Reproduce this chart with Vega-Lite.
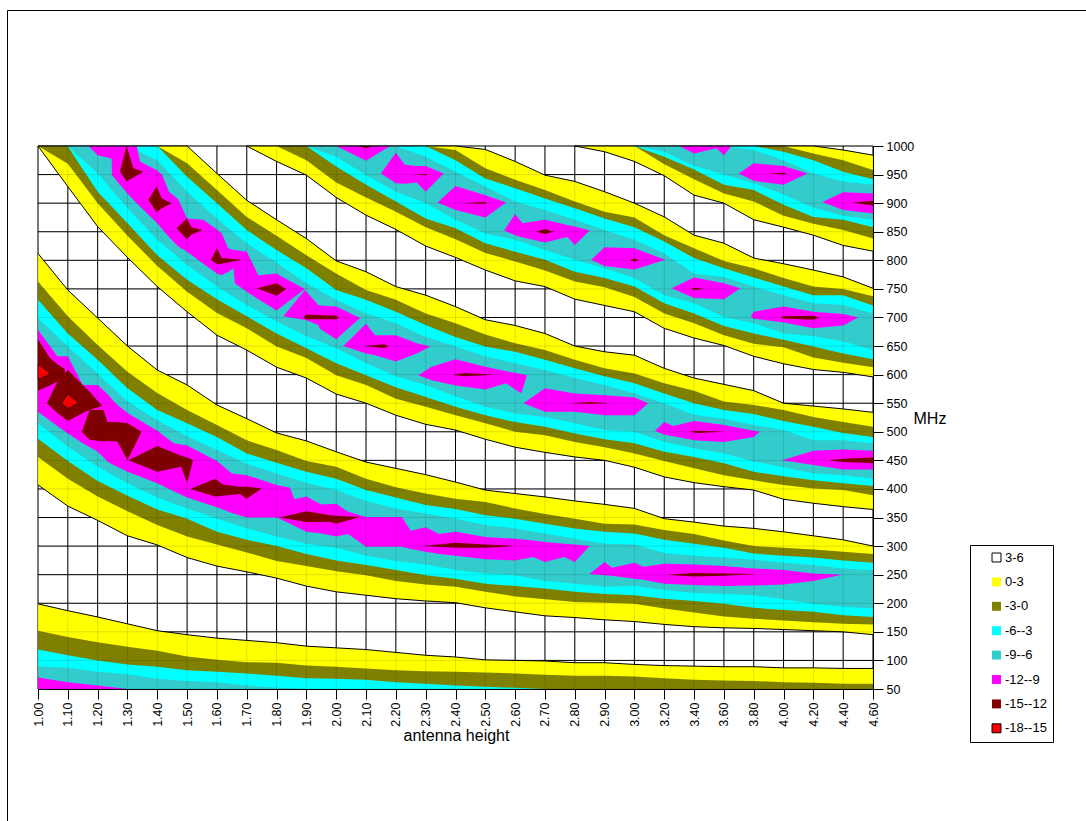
{"$schema":"https://vega.github.io/schema/vega-lite/v6.json","width":1084,"height":816,"autosize":"none","padding":{"left":7,"top":10,"right":-5,"bottom":-5},"background":"white","config":{"view":{"stroke":"black","strokeWidth":1},"font":"Liberation Sans"},
"datasets":{"gridv":[{"h":0,"lo":50,"hi":1000},{"h":1,"lo":50,"hi":1000},{"h":2,"lo":50,"hi":1000},{"h":3,"lo":50,"hi":1000},{"h":4,"lo":50,"hi":1000},{"h":5,"lo":50,"hi":1000},{"h":6,"lo":50,"hi":1000},{"h":7,"lo":50,"hi":1000},{"h":8,"lo":50,"hi":1000},{"h":9,"lo":50,"hi":1000},{"h":10,"lo":50,"hi":1000},{"h":11,"lo":50,"hi":1000},{"h":12,"lo":50,"hi":1000},{"h":13,"lo":50,"hi":1000},{"h":14,"lo":50,"hi":1000},{"h":15,"lo":50,"hi":1000},{"h":16,"lo":50,"hi":1000},{"h":17,"lo":50,"hi":1000},{"h":18,"lo":50,"hi":1000},{"h":19,"lo":50,"hi":1000},{"h":20,"lo":50,"hi":1000},{"h":21,"lo":50,"hi":1000},{"h":22,"lo":50,"hi":1000},{"h":23,"lo":50,"hi":1000},{"h":24,"lo":50,"hi":1000},{"h":25,"lo":50,"hi":1000},{"h":26,"lo":50,"hi":1000},{"h":27,"lo":50,"hi":1000},{"h":28,"lo":50,"hi":1000}],
"gridh":[{"h":0,"lo":50},{"h":28,"lo":50},{"h":0,"lo":100},{"h":28,"lo":100},{"h":0,"lo":150},{"h":28,"lo":150},{"h":0,"lo":200},{"h":28,"lo":200},{"h":0,"lo":250},{"h":28,"lo":250},{"h":0,"lo":300},{"h":28,"lo":300},{"h":0,"lo":350},{"h":28,"lo":350},{"h":0,"lo":400},{"h":28,"lo":400},{"h":0,"lo":450},{"h":28,"lo":450},{"h":0,"lo":500},{"h":28,"lo":500},{"h":0,"lo":550},{"h":28,"lo":550},{"h":0,"lo":600},{"h":28,"lo":600},{"h":0,"lo":650},{"h":28,"lo":650},{"h":0,"lo":700},{"h":28,"lo":700},{"h":0,"lo":750},{"h":28,"lo":750},{"h":0,"lo":800},{"h":28,"lo":800},{"h":0,"lo":850},{"h":28,"lo":850},{"h":0,"lo":900},{"h":28,"lo":900},{"h":0,"lo":950},{"h":28,"lo":950},{"h":0,"lo":1000},{"h":28,"lo":1000}],
"bands":[
{"g":"A","b":"0-3","h":0,"lo":40,"hi":199},{"g":"A","b":"0-3","h":1,"lo":40,"hi":187},{"g":"A","b":"0-3","h":2,"lo":40,"hi":176},{"g":"A","b":"0-3","h":3,"lo":40,"hi":164},{"g":"A","b":"0-3","h":4,"lo":40,"hi":152},{"g":"A","b":"0-3","h":5,"lo":40,"hi":145},{"g":"A","b":"0-3","h":6,"lo":40,"hi":139},{"g":"A","b":"0-3","h":7,"lo":40,"hi":135},{"g":"A","b":"0-3","h":8,"lo":40,"hi":131},{"g":"A","b":"0-3","h":9,"lo":40,"hi":125},{"g":"A","b":"0-3","h":10,"lo":40,"hi":122},{"g":"A","b":"0-3","h":11,"lo":40,"hi":119},{"g":"A","b":"0-3","h":12,"lo":40,"hi":114},{"g":"A","b":"0-3","h":13,"lo":40,"hi":109},{"g":"A","b":"0-3","h":14,"lo":40,"hi":106},{"g":"A","b":"0-3","h":15,"lo":40,"hi":101},{"g":"A","b":"0-3","h":16,"lo":40,"hi":100},{"g":"A","b":"0-3","h":17,"lo":40,"hi":99},{"g":"A","b":"0-3","h":18,"lo":40,"hi":96},{"g":"A","b":"0-3","h":19,"lo":40,"hi":96},{"g":"A","b":"0-3","h":20,"lo":40,"hi":93},{"g":"A","b":"0-3","h":21,"lo":40,"hi":91},{"g":"A","b":"0-3","h":22,"lo":40,"hi":90},{"g":"A","b":"0-3","h":23,"lo":40,"hi":89},{"g":"A","b":"0-3","h":24,"lo":40,"hi":89},{"g":"A","b":"0-3","h":25,"lo":40,"hi":87},{"g":"A","b":"0-3","h":26,"lo":40,"hi":87},{"g":"A","b":"0-3","h":27,"lo":40,"hi":86},{"g":"A","b":"0-3","h":28,"lo":40,"hi":86},
{"g":"A","b":"-3-0","h":0,"lo":40,"hi":152},{"g":"A","b":"-3-0","h":1,"lo":40,"hi":141},{"g":"A","b":"-3-0","h":2,"lo":40,"hi":132},{"g":"A","b":"-3-0","h":3,"lo":40,"hi":124},{"g":"A","b":"-3-0","h":4,"lo":40,"hi":117},{"g":"A","b":"-3-0","h":5,"lo":40,"hi":107},{"g":"A","b":"-3-0","h":6,"lo":40,"hi":101},{"g":"A","b":"-3-0","h":7,"lo":40,"hi":97},{"g":"A","b":"-3-0","h":8,"lo":40,"hi":96},{"g":"A","b":"-3-0","h":9,"lo":40,"hi":91},{"g":"A","b":"-3-0","h":10,"lo":40,"hi":89},{"g":"A","b":"-3-0","h":11,"lo":40,"hi":86},{"g":"A","b":"-3-0","h":12,"lo":40,"hi":83},{"g":"A","b":"-3-0","h":13,"lo":40,"hi":81},{"g":"A","b":"-3-0","h":14,"lo":40,"hi":80},{"g":"A","b":"-3-0","h":15,"lo":40,"hi":79},{"g":"A","b":"-3-0","h":16,"lo":40,"hi":77},{"g":"A","b":"-3-0","h":17,"lo":40,"hi":75},{"g":"A","b":"-3-0","h":18,"lo":40,"hi":73},{"g":"A","b":"-3-0","h":19,"lo":40,"hi":73},{"g":"A","b":"-3-0","h":20,"lo":40,"hi":72},{"g":"A","b":"-3-0","h":21,"lo":40,"hi":69},{"g":"A","b":"-3-0","h":22,"lo":40,"hi":66},{"g":"A","b":"-3-0","h":23,"lo":40,"hi":65},{"g":"A","b":"-3-0","h":24,"lo":40,"hi":64},{"g":"A","b":"-3-0","h":25,"lo":40,"hi":62},{"g":"A","b":"-3-0","h":26,"lo":40,"hi":61},{"g":"A","b":"-3-0","h":27,"lo":40,"hi":59},{"g":"A","b":"-3-0","h":28,"lo":40,"hi":59},
{"g":"A","b":"-6--3","h":0,"lo":40,"hi":119},{"g":"A","b":"-6--3","h":1,"lo":40,"hi":109},{"g":"A","b":"-6--3","h":2,"lo":40,"hi":100},{"g":"A","b":"-6--3","h":3,"lo":40,"hi":93},{"g":"A","b":"-6--3","h":4,"lo":40,"hi":89},{"g":"A","b":"-6--3","h":5,"lo":40,"hi":83},{"g":"A","b":"-6--3","h":6,"lo":40,"hi":80},{"g":"A","b":"-6--3","h":7,"lo":40,"hi":77},{"g":"A","b":"-6--3","h":8,"lo":40,"hi":73},{"g":"A","b":"-6--3","h":9,"lo":40,"hi":69},{"g":"A","b":"-6--3","h":10,"lo":40,"hi":68},{"g":"A","b":"-6--3","h":11,"lo":40,"hi":66},{"g":"A","b":"-6--3","h":12,"lo":40,"hi":62},{"g":"A","b":"-6--3","h":13,"lo":40,"hi":59},{"g":"A","b":"-6--3","h":14,"lo":40,"hi":56},{"g":"A","b":"-6--3","h":15,"lo":40,"hi":54},{"g":"A","b":"-6--3","h":16,"lo":40,"hi":52},{"g":"A","b":"-6--3","h":17,"lo":40,"hi":50},
{"g":"A","b":"-9--6","h":0,"lo":40,"hi":90},{"g":"A","b":"-9--6","h":1,"lo":40,"hi":87},{"g":"A","b":"-9--6","h":2,"lo":40,"hi":80},{"g":"A","b":"-9--6","h":3,"lo":40,"hi":76},{"g":"A","b":"-9--6","h":4,"lo":40,"hi":68},{"g":"A","b":"-9--6","h":5,"lo":40,"hi":64},{"g":"A","b":"-9--6","h":6,"lo":40,"hi":62},{"g":"A","b":"-9--6","h":7,"lo":40,"hi":56},{"g":"A","b":"-9--6","h":8,"lo":40,"hi":52},{"g":"A","b":"-9--6","h":9,"lo":40,"hi":50},
{"g":"A","b":"-12--9","h":0,"lo":40,"hi":70},{"g":"A","b":"-12--9","h":1,"lo":40,"hi":62},{"g":"A","b":"-12--9","h":2,"lo":40,"hi":56},{"g":"A","b":"-12--9","h":3,"lo":40,"hi":50},
{"g":"B","b":"0-3","h":0,"lo":407,"hi":812},{"g":"B","b":"0-3","h":1,"lo":370,"hi":748},{"g":"B","b":"0-3","h":2,"lo":345,"hi":699},{"g":"B","b":"0-3","h":3,"lo":318,"hi":650},{"g":"B","b":"0-3","h":4,"lo":302,"hi":608},{"g":"B","b":"0-3","h":5,"lo":280,"hi":582},{"g":"B","b":"0-3","h":6,"lo":265,"hi":547},{"g":"B","b":"0-3","h":7,"lo":255,"hi":523},{"g":"B","b":"0-3","h":8,"lo":244,"hi":498},{"g":"B","b":"0-3","h":9,"lo":230,"hi":484},{"g":"B","b":"0-3","h":10,"lo":220,"hi":465},{"g":"B","b":"0-3","h":11,"lo":214,"hi":447},{"g":"B","b":"0-3","h":12,"lo":208,"hi":436},{"g":"B","b":"0-3","h":13,"lo":204,"hi":425},{"g":"B","b":"0-3","h":14,"lo":201,"hi":412},{"g":"B","b":"0-3","h":15,"lo":192,"hi":398},{"g":"B","b":"0-3","h":16,"lo":185,"hi":392},{"g":"B","b":"0-3","h":17,"lo":178,"hi":386},{"g":"B","b":"0-3","h":18,"lo":175,"hi":379},{"g":"B","b":"0-3","h":19,"lo":171,"hi":373},{"g":"B","b":"0-3","h":20,"lo":168,"hi":366},{"g":"B","b":"0-3","h":21,"lo":163,"hi":348},{"g":"B","b":"0-3","h":22,"lo":159,"hi":342},{"g":"B","b":"0-3","h":23,"lo":157,"hi":335},{"g":"B","b":"0-3","h":24,"lo":156,"hi":331},{"g":"B","b":"0-3","h":25,"lo":154,"hi":325},{"g":"B","b":"0-3","h":26,"lo":152,"hi":318},{"g":"B","b":"0-3","h":27,"lo":150,"hi":311},{"g":"B","b":"0-3","h":28,"lo":145,"hi":300},
{"g":"B","b":"-3-0","h":0,"lo":456,"hi":763},{"g":"B","b":"-3-0","h":1,"lo":418,"hi":702},{"g":"B","b":"-3-0","h":2,"lo":387,"hi":652},{"g":"B","b":"-3-0","h":3,"lo":361,"hi":605},{"g":"B","b":"-3-0","h":4,"lo":337,"hi":568},{"g":"B","b":"-3-0","h":5,"lo":317,"hi":538},{"g":"B","b":"-3-0","h":6,"lo":303,"hi":512},{"g":"B","b":"-3-0","h":7,"lo":289,"hi":485},{"g":"B","b":"-3-0","h":8,"lo":274,"hi":468},{"g":"B","b":"-3-0","h":9,"lo":265,"hi":449},{"g":"B","b":"-3-0","h":10,"lo":256,"hi":439},{"g":"B","b":"-3-0","h":11,"lo":249,"hi":418},{"g":"B","b":"-3-0","h":12,"lo":239,"hi":403},{"g":"B","b":"-3-0","h":13,"lo":233,"hi":392},{"g":"B","b":"-3-0","h":14,"lo":229,"hi":383},{"g":"B","b":"-3-0","h":15,"lo":220,"hi":377},{"g":"B","b":"-3-0","h":16,"lo":212,"hi":366},{"g":"B","b":"-3-0","h":17,"lo":207,"hi":356},{"g":"B","b":"-3-0","h":18,"lo":202,"hi":348},{"g":"B","b":"-3-0","h":19,"lo":201,"hi":339},{"g":"B","b":"-3-0","h":20,"lo":199,"hi":338},{"g":"B","b":"-3-0","h":21,"lo":191,"hi":328},{"g":"B","b":"-3-0","h":22,"lo":184,"hi":321},{"g":"B","b":"-3-0","h":23,"lo":177,"hi":310},{"g":"B","b":"-3-0","h":24,"lo":173,"hi":300},{"g":"B","b":"-3-0","h":25,"lo":170,"hi":297},{"g":"B","b":"-3-0","h":26,"lo":167,"hi":294},{"g":"B","b":"-3-0","h":27,"lo":164,"hi":290},{"g":"B","b":"-3-0","h":28,"lo":163,"hi":286},
{"g":"B","b":"-6--3","h":0,"lo":488,"hi":731},{"g":"B","b":"-6--3","h":1,"lo":449,"hi":672},{"g":"B","b":"-6--3","h":2,"lo":414,"hi":626},{"g":"B","b":"-6--3","h":3,"lo":388,"hi":576},{"g":"B","b":"-6--3","h":4,"lo":364,"hi":538},{"g":"B","b":"-6--3","h":5,"lo":348,"hi":515},{"g":"B","b":"-6--3","h":6,"lo":325,"hi":491},{"g":"B","b":"-6--3","h":7,"lo":311,"hi":462},{"g":"B","b":"-6--3","h":8,"lo":300,"hi":446},{"g":"B","b":"-6--3","h":9,"lo":286,"hi":430},{"g":"B","b":"-6--3","h":10,"lo":275,"hi":418},{"g":"B","b":"-6--3","h":11,"lo":267,"hi":398},{"g":"B","b":"-6--3","h":12,"lo":258,"hi":385},{"g":"B","b":"-6--3","h":13,"lo":249,"hi":372},{"g":"B","b":"-6--3","h":14,"lo":243,"hi":365},{"g":"B","b":"-6--3","h":15,"lo":234,"hi":354},{"g":"B","b":"-6--3","h":16,"lo":230,"hi":348},{"g":"B","b":"-6--3","h":17,"lo":226,"hi":339},{"g":"B","b":"-6--3","h":18,"lo":220,"hi":331},{"g":"B","b":"-6--3","h":19,"lo":216,"hi":325},{"g":"B","b":"-6--3","h":20,"lo":214,"hi":322},{"g":"B","b":"-6--3","h":21,"lo":208,"hi":311},{"g":"B","b":"-6--3","h":22,"lo":204,"hi":304},{"g":"B","b":"-6--3","h":23,"lo":199,"hi":297},{"g":"B","b":"-6--3","h":24,"lo":192,"hi":287},{"g":"B","b":"-6--3","h":25,"lo":188,"hi":283},{"g":"B","b":"-6--3","h":26,"lo":185,"hi":280},{"g":"B","b":"-6--3","h":27,"lo":179,"hi":275},{"g":"B","b":"-6--3","h":28,"lo":176,"hi":271},
{"g":"B","b":"-9--6","h":0,"lo":515,"hi":699},{"g":"B","b":"-9--6","h":1,"lo":474,"hi":649},{"g":"B","b":"-9--6","h":2,"lo":439,"hi":602},{"g":"B","b":"-9--6","h":3,"lo":410,"hi":553},{"g":"B","b":"-9--6","h":4,"lo":385,"hi":520},{"g":"B","b":"-9--6","h":5,"lo":366,"hi":492},{"g":"B","b":"-9--6","h":6,"lo":348,"hi":468},{"g":"B","b":"-9--6","h":7,"lo":331,"hi":444},{"g":"B","b":"-9--6","h":8,"lo":317,"hi":427},{"g":"B","b":"-9--6","h":9,"lo":304,"hi":411},{"g":"B","b":"-9--6","h":10,"lo":297,"hi":398},{"g":"B","b":"-9--6","h":11,"lo":283,"hi":379},{"g":"B","b":"-9--6","h":12,"lo":274,"hi":366},{"g":"B","b":"-9--6","h":13,"lo":268,"hi":357},{"g":"B","b":"-9--6","h":14,"lo":258,"hi":348},{"g":"B","b":"-9--6","h":15,"lo":252,"hi":337},{"g":"B","b":"-9--6","h":16,"lo":249,"hi":331},{"g":"B","b":"-9--6","h":17,"lo":239,"hi":322},{"g":"B","b":"-9--6","h":18,"lo":234,"hi":313},{"g":"B","b":"-9--6","h":19,"lo":229,"hi":304},{"g":"B","b":"-9--6","h":20,"lo":230,"hi":303},{"g":"B","b":"-9--6","h":21,"lo":223,"hi":288},{"g":"B","b":"-9--6","h":22,"lo":218,"hi":283},{"g":"B","b":"-9--6","h":23,"lo":216,"hi":280},{"g":"B","b":"-9--6","h":24,"lo":214,"hi":276},{"g":"B","b":"-9--6","h":25,"lo":207,"hi":271},{"g":"B","b":"-9--6","h":26,"lo":199,"hi":267},{"g":"B","b":"-9--6","h":27,"lo":194,"hi":261},{"g":"B","b":"-9--6","h":28,"lo":191,"hi":258},
{"g":"B1","b":"-12--9","h":0,"lo":535,"hi":678},{"g":"B1","b":"-12--9","h":0.65,"lo":510,"hi":632},{"g":"B1","b":"-12--9","h":1,"lo":497,"hi":632},{"g":"B1","b":"-12--9","h":1.5,"lo":480,"hi":582},{"g":"B1","b":"-12--9","h":2,"lo":465,"hi":582},{"g":"B1","b":"-12--9","h":2.35,"lo":447,"hi":565},{"g":"B1","b":"-12--9","h":2.6,"lo":440,"hi":550},{"g":"B1","b":"-12--9","h":3,"lo":430,"hi":533},{"g":"B1","b":"-12--9","h":4,"lo":410,"hi":502},{"g":"B1","b":"-12--9","h":4.55,"lo":396,"hi":480},{"g":"B1","b":"-12--9","h":5,"lo":385,"hi":476},{"g":"B1","b":"-12--9","h":6,"lo":368,"hi":449},{"g":"B1","b":"-12--9","h":6.5,"lo":358,"hi":427},{"g":"B1","b":"-12--9","h":7,"lo":350,"hi":424},{"g":"B1","b":"-12--9","h":8,"lo":350,"hi":407},{"g":"B1","b":"-12--9","h":8.45,"lo":339,"hi":402},{"g":"B1","b":"-12--9","h":8.6,"lo":335,"hi":382},{"g":"B1","b":"-12--9","h":9,"lo":325,"hi":387},{"g":"B1","b":"-12--9","h":9.5,"lo":322,"hi":373},{"g":"B1","b":"-12--9","h":10,"lo":317,"hi":374},{"g":"B1","b":"-12--9","h":10.4,"lo":321,"hi":360},{"g":"B1","b":"-12--9","h":11,"lo":299,"hi":351},{"g":"B1","b":"-12--9","h":12.2,"lo":299,"hi":351},{"g":"B1","b":"-12--9","h":12.5,"lo":295,"hi":327},{"g":"B1","b":"-12--9","h":13,"lo":290,"hi":333},{"g":"B1","b":"-12--9","h":13.45,"lo":286,"hi":321},{"g":"B1","b":"-12--9","h":14,"lo":283,"hi":325},{"g":"B1","b":"-12--9","h":15,"lo":277,"hi":316},{"g":"B1","b":"-12--9","h":16,"lo":275,"hi":313},{"g":"B1","b":"-12--9","h":16.6,"lo":281,"hi":310},{"g":"B1","b":"-12--9","h":17,"lo":272,"hi":307},{"g":"B1","b":"-12--9","h":17.65,"lo":281,"hi":304},{"g":"B1","b":"-12--9","h":18,"lo":272,"hi":303},{"g":"B1","b":"-12--9","h":18.5,"lo":300,"hi":300},
{"g":"B2","b":"-12--9","h":18.49,"lo":251,"hi":251},{"g":"B2","b":"-12--9","h":19,"lo":249,"hi":272},{"g":"B2","b":"-12--9","h":19.25,"lo":248,"hi":262},{"g":"B2","b":"-12--9","h":20,"lo":243,"hi":271},{"g":"B2","b":"-12--9","h":20.3,"lo":241,"hi":264},{"g":"B2","b":"-12--9","h":21,"lo":234,"hi":269},{"g":"B2","b":"-12--9","h":22,"lo":232,"hi":268},{"g":"B2","b":"-12--9","h":23,"lo":230,"hi":265},{"g":"B2","b":"-12--9","h":24,"lo":231,"hi":261},{"g":"B2","b":"-12--9","h":25,"lo":233,"hi":258},{"g":"B2","b":"-12--9","h":26,"lo":239,"hi":252},{"g":"B2","b":"-12--9","h":26.95,"lo":250,"hi":250},
{"g":"Ba","b":"-15--12","h":0,"lo":572,"hi":661},{"g":"Ba","b":"-15--12","h":0.4,"lo":581,"hi":629},{"g":"Ba","b":"-15--12","h":0.65,"lo":588,"hi":618},{"g":"Ba","b":"-15--12","h":0.9,"lo":600,"hi":610},
{"g":"Bb","b":"-15--12","h":0.3,"lo":550,"hi":550},{"g":"Bb","b":"-15--12","h":0.65,"lo":533,"hi":588},{"g":"Bb","b":"-15--12","h":1,"lo":519,"hi":608},{"g":"Bb","b":"-15--12","h":1.5,"lo":533,"hi":582},{"g":"Bb","b":"-15--12","h":1.73,"lo":538,"hi":570},{"g":"Bb","b":"-15--12","h":2.15,"lo":545,"hi":545},
{"g":"Bc","b":"-15--12","h":1.47,"lo":500,"hi":500},{"g":"Bc","b":"-15--12","h":1.73,"lo":486,"hi":538},{"g":"Bc","b":"-15--12","h":2.2,"lo":483,"hi":538},{"g":"Bc","b":"-15--12","h":2.33,"lo":484,"hi":517},{"g":"Bc","b":"-15--12","h":2.66,"lo":483,"hi":517},{"g":"Bc","b":"-15--12","h":3,"lo":450,"hi":515},{"g":"Bc","b":"-15--12","h":3.47,"lo":500,"hi":500},
{"g":"Bd","b":"-15--12","h":3.03,"lo":450,"hi":450},{"g":"Bd","b":"-15--12","h":4,"lo":430,"hi":475},{"g":"Bd","b":"-15--12","h":4.8,"lo":439,"hi":458},{"g":"Bd","b":"-15--12","h":5,"lo":410,"hi":455},{"g":"Bd","b":"-15--12","h":5.2,"lo":450,"hi":450},
{"g":"Be","b":"-15--12","h":5.1,"lo":400,"hi":400},{"g":"Be","b":"-15--12","h":5.94,"lo":387,"hi":418},{"g":"Be","b":"-15--12","h":6.2,"lo":388,"hi":408},{"g":"Be","b":"-15--12","h":6.77,"lo":391,"hi":404},{"g":"Be","b":"-15--12","h":7,"lo":383,"hi":404},{"g":"Be","b":"-15--12","h":7.5,"lo":401,"hi":401},
{"g":"Bf","b":"-15--12","h":8.1,"lo":350,"hi":350},{"g":"Bf","b":"-15--12","h":9,"lo":342,"hi":361},{"g":"Bf","b":"-15--12","h":9.8,"lo":342,"hi":354},{"g":"Bf","b":"-15--12","h":10,"lo":339,"hi":353},{"g":"Bf","b":"-15--12","h":10.8,"lo":351,"hi":351},
{"g":"Bg","b":"-15--12","h":12.9,"lo":300,"hi":300},{"g":"Bg","b":"-15--12","h":14,"lo":297,"hi":306},{"g":"Bg","b":"-15--12","h":15,"lo":297,"hi":303},{"g":"Bg","b":"-15--12","h":16,"lo":300,"hi":300},
{"g":"Bh","b":"-15--12","h":21.05,"lo":250,"hi":250},{"g":"Bh","b":"-15--12","h":22,"lo":247,"hi":253},{"g":"Bh","b":"-15--12","h":23,"lo":248,"hi":252},{"g":"Bh","b":"-15--12","h":24.1,"lo":251,"hi":251},
{"g":"Ra","b":"-18--15","h":0,"lo":592,"hi":618},{"g":"Ra","b":"-18--15","h":0.42,"lo":601,"hi":601},
{"g":"Rb","b":"-18--15","h":0.8,"lo":550,"hi":550},{"g":"Rb","b":"-18--15","h":1,"lo":541,"hi":566},{"g":"Rb","b":"-18--15","h":1.35,"lo":550,"hi":550},
{"g":"C","b":"0-3","h":0,"lo":1000,"hi":1100},{"g":"C","b":"0-3","h":1,"lo":929,"hi":1100},{"g":"C","b":"0-3","h":2,"lo":859,"hi":1100},{"g":"C","b":"0-3","h":3,"lo":805,"hi":1100},{"g":"C","b":"0-3","h":4,"lo":754,"hi":1060},{"g":"C","b":"0-3","h":5,"lo":710,"hi":1000},{"g":"C","b":"0-3","h":6,"lo":669,"hi":952},{"g":"C","b":"0-3","h":7,"lo":643,"hi":905},{"g":"C","b":"0-3","h":8,"lo":613,"hi":871},{"g":"C","b":"0-3","h":9,"lo":594,"hi":838},{"g":"C","b":"0-3","h":10,"lo":566,"hi":799},{"g":"C","b":"0-3","h":11,"lo":550,"hi":780},{"g":"C","b":"0-3","h":12,"lo":529,"hi":754},{"g":"C","b":"0-3","h":13,"lo":513,"hi":739},{"g":"C","b":"0-3","h":14,"lo":503,"hi":719},{"g":"C","b":"0-3","h":15,"lo":487,"hi":696},{"g":"C","b":"0-3","h":16,"lo":473,"hi":686},{"g":"C","b":"0-3","h":17,"lo":464,"hi":672},{"g":"C","b":"0-3","h":18,"lo":456,"hi":650},{"g":"C","b":"0-3","h":19,"lo":450,"hi":640},{"g":"C","b":"0-3","h":20,"lo":438,"hi":634},{"g":"C","b":"0-3","h":21,"lo":421,"hi":611},{"g":"C","b":"0-3","h":22,"lo":411,"hi":594},{"g":"C","b":"0-3","h":23,"lo":404,"hi":583},{"g":"C","b":"0-3","h":24,"lo":398,"hi":572},{"g":"C","b":"0-3","h":25,"lo":382,"hi":550},{"g":"C","b":"0-3","h":26,"lo":375,"hi":545},{"g":"C","b":"0-3","h":27,"lo":369,"hi":540},{"g":"C","b":"0-3","h":28,"lo":364,"hi":534},
{"g":"C","b":"-3-0","h":0,"lo":1040,"hi":1100},{"g":"C","b":"-3-0","h":1,"lo":969,"hi":1100},{"g":"C","b":"-3-0","h":2,"lo":900,"hi":1100},{"g":"C","b":"-3-0","h":3,"lo":843,"hi":1100},{"g":"C","b":"-3-0","h":4,"lo":790,"hi":1030},{"g":"C","b":"-3-0","h":5,"lo":745,"hi":970},{"g":"C","b":"-3-0","h":6,"lo":708,"hi":923},{"g":"C","b":"-3-0","h":7,"lo":681,"hi":876},{"g":"C","b":"-3-0","h":8,"lo":649,"hi":843},{"g":"C","b":"-3-0","h":9,"lo":629,"hi":809},{"g":"C","b":"-3-0","h":10,"lo":599,"hi":777},{"g":"C","b":"-3-0","h":11,"lo":582,"hi":748},{"g":"C","b":"-3-0","h":12,"lo":558,"hi":731},{"g":"C","b":"-3-0","h":13,"lo":544,"hi":707},{"g":"C","b":"-3-0","h":14,"lo":529,"hi":690},{"g":"C","b":"-3-0","h":15,"lo":515,"hi":670},{"g":"C","b":"-3-0","h":16,"lo":500,"hi":655},{"g":"C","b":"-3-0","h":17,"lo":494,"hi":643},{"g":"C","b":"-3-0","h":18,"lo":482,"hi":626},{"g":"C","b":"-3-0","h":19,"lo":473,"hi":611},{"g":"C","b":"-3-0","h":20,"lo":462,"hi":602},{"g":"C","b":"-3-0","h":21,"lo":449,"hi":585},{"g":"C","b":"-3-0","h":22,"lo":436,"hi":572},{"g":"C","b":"-3-0","h":23,"lo":424,"hi":553},{"g":"C","b":"-3-0","h":24,"lo":415,"hi":547},{"g":"C","b":"-3-0","h":25,"lo":407,"hi":538},{"g":"C","b":"-3-0","h":26,"lo":401,"hi":526},{"g":"C","b":"-3-0","h":27,"lo":398,"hi":517},{"g":"C","b":"-3-0","h":28,"lo":389,"hi":509},
{"g":"C","b":"-6--3","h":1,"lo":999,"hi":1100},{"g":"C","b":"-6--3","h":2,"lo":920,"hi":1100},{"g":"C","b":"-6--3","h":3,"lo":865,"hi":1100},{"g":"C","b":"-6--3","h":4,"lo":809,"hi":1000},{"g":"C","b":"-6--3","h":5,"lo":766,"hi":946},{"g":"C","b":"-6--3","h":6,"lo":732,"hi":900},{"g":"C","b":"-6--3","h":7,"lo":702,"hi":853},{"g":"C","b":"-6--3","h":8,"lo":672,"hi":818},{"g":"C","b":"-6--3","h":9,"lo":646,"hi":786},{"g":"C","b":"-6--3","h":10,"lo":620,"hi":748},{"g":"C","b":"-6--3","h":11,"lo":599,"hi":731},{"g":"C","b":"-6--3","h":12,"lo":578,"hi":710},{"g":"C","b":"-6--3","h":13,"lo":561,"hi":687},{"g":"C","b":"-6--3","h":14,"lo":544,"hi":666},{"g":"C","b":"-6--3","h":15,"lo":529,"hi":649},{"g":"C","b":"-6--3","h":16,"lo":517,"hi":640},{"g":"C","b":"-6--3","h":17,"lo":509,"hi":626},{"g":"C","b":"-6--3","h":18,"lo":497,"hi":611},{"g":"C","b":"-6--3","h":19,"lo":487,"hi":597},{"g":"C","b":"-6--3","h":20,"lo":480,"hi":585},{"g":"C","b":"-6--3","h":21,"lo":465,"hi":567},{"g":"C","b":"-6--3","h":22,"lo":456,"hi":550},{"g":"C","b":"-6--3","h":23,"lo":445,"hi":538},{"g":"C","b":"-6--3","h":24,"lo":430,"hi":531},{"g":"C","b":"-6--3","h":25,"lo":422,"hi":519},{"g":"C","b":"-6--3","h":26,"lo":415,"hi":509},{"g":"C","b":"-6--3","h":27,"lo":410,"hi":498},{"g":"C","b":"-6--3","h":28,"lo":405,"hi":491},
{"g":"C","b":"-9--6","h":1,"lo":1010,"hi":1100},{"g":"C","b":"-9--6","h":2,"lo":952,"hi":1100},{"g":"C","b":"-9--6","h":3,"lo":891,"hi":1030},{"g":"C","b":"-9--6","h":4,"lo":836,"hi":975},{"g":"C","b":"-9--6","h":5,"lo":792,"hi":920},{"g":"C","b":"-9--6","h":6,"lo":754,"hi":873},{"g":"C","b":"-9--6","h":7,"lo":722,"hi":830},{"g":"C","b":"-9--6","h":8,"lo":693,"hi":796},{"g":"C","b":"-9--6","h":9,"lo":667,"hi":760},{"g":"C","b":"-9--6","h":10,"lo":646,"hi":731},{"g":"C","b":"-9--6","h":11,"lo":620,"hi":707},{"g":"C","b":"-9--6","h":12,"lo":597,"hi":690},{"g":"C","b":"-9--6","h":13,"lo":582,"hi":666},{"g":"C","b":"-9--6","h":14,"lo":562,"hi":649},{"g":"C","b":"-9--6","h":15,"lo":544,"hi":632},{"g":"C","b":"-9--6","h":16,"lo":532,"hi":620},{"g":"C","b":"-9--6","h":17,"lo":526,"hi":608},{"g":"C","b":"-9--6","h":18,"lo":515,"hi":594},{"g":"C","b":"-9--6","h":19,"lo":503,"hi":582},{"g":"C","b":"-9--6","h":20,"lo":500,"hi":567},{"g":"C","b":"-9--6","h":21,"lo":482,"hi":550},{"g":"C","b":"-9--6","h":22,"lo":471,"hi":530},{"g":"C","b":"-9--6","h":23,"lo":462,"hi":523},{"g":"C","b":"-9--6","h":24,"lo":448,"hi":512},{"g":"C","b":"-9--6","h":25,"lo":438,"hi":503},{"g":"C","b":"-9--6","h":26,"lo":427,"hi":485},{"g":"C","b":"-9--6","h":27,"lo":424,"hi":485},{"g":"C","b":"-9--6","h":28,"lo":418,"hi":480},
{"g":"C1","b":"-12--9","h":1.69,"lo":1000,"hi":1000},{"g":"C1","b":"-12--9","h":2,"lo":984,"hi":1020},{"g":"C1","b":"-12--9","h":2.47,"lo":978,"hi":1020},{"g":"C1","b":"-12--9","h":2.48,"lo":949,"hi":1020},{"g":"C1","b":"-12--9","h":3,"lo":917,"hi":1020},{"g":"C1","b":"-12--9","h":3.31,"lo":900,"hi":1000},{"g":"C1","b":"-12--9","h":3.42,"lo":894,"hi":973},{"g":"C1","b":"-12--9","h":4,"lo":865,"hi":957},{"g":"C1","b":"-12--9","h":4.17,"lo":854,"hi":949},{"g":"C1","b":"-12--9","h":4.39,"lo":841,"hi":920},{"g":"C1","b":"-12--9","h":4.7,"lo":824,"hi":907},{"g":"C1","b":"-12--9","h":5,"lo":815,"hi":873},{"g":"C1","b":"-12--9","h":5.54,"lo":794,"hi":871},{"g":"C1","b":"-12--9","h":6,"lo":777,"hi":854},{"g":"C1","b":"-12--9","h":6.16,"lo":774,"hi":847},{"g":"C1","b":"-12--9","h":6.38,"lo":780,"hi":821},{"g":"C1","b":"-12--9","h":6.55,"lo":786,"hi":818},{"g":"C1","b":"-12--9","h":6.6,"lo":760,"hi":818},{"g":"C1","b":"-12--9","h":7,"lo":745,"hi":815},{"g":"C1","b":"-12--9","h":7.39,"lo":732,"hi":774},{"g":"C1","b":"-12--9","h":8,"lo":712,"hi":777},{"g":"C1","b":"-12--9","h":8.2,"lo":720,"hi":771},{"g":"C1","b":"-12--9","h":8.95,"lo":750,"hi":750},
{"g":"C2","b":"-12--9","h":8.23,"lo":702,"hi":702},{"g":"C2","b":"-12--9","h":8.9,"lo":696,"hi":745},{"g":"C2","b":"-12--9","h":8.95,"lo":696,"hi":748},{"g":"C2","b":"-12--9","h":9.4,"lo":687,"hi":722},{"g":"C2","b":"-12--9","h":9.46,"lo":680,"hi":721},{"g":"C2","b":"-12--9","h":10,"lo":662,"hi":719},{"g":"C2","b":"-12--9","h":10.8,"lo":699,"hi":699},
{"g":"C3","b":"-12--9","h":10.24,"lo":650,"hi":650},{"g":"C3","b":"-12--9","h":11,"lo":637,"hi":689},{"g":"C3","b":"-12--9","h":11.3,"lo":634,"hi":669},{"g":"C3","b":"-12--9","h":12,"lo":623,"hi":669},{"g":"C3","b":"-12--9","h":12.7,"lo":637,"hi":655},{"g":"C3","b":"-12--9","h":13.15,"lo":649,"hi":649},
{"g":"C4","b":"-12--9","h":12.75,"lo":599,"hi":599},{"g":"C4","b":"-12--9","h":13.2,"lo":590,"hi":614},{"g":"C4","b":"-12--9","h":14,"lo":581,"hi":627},{"g":"C4","b":"-12--9","h":15,"lo":574,"hi":614},{"g":"C4","b":"-12--9","h":15.7,"lo":585,"hi":606},{"g":"C4","b":"-12--9","h":16.2,"lo":567,"hi":601},{"g":"C4","b":"-12--9","h":16.4,"lo":599,"hi":599},
{"g":"C5","b":"-12--9","h":16.28,"lo":550,"hi":550},{"g":"C5","b":"-12--9","h":17,"lo":535,"hi":576},{"g":"C5","b":"-12--9","h":18,"lo":535,"hi":567},{"g":"C5","b":"-12--9","h":19,"lo":529,"hi":564},{"g":"C5","b":"-12--9","h":20,"lo":529,"hi":560},{"g":"C5","b":"-12--9","h":20.46,"lo":550,"hi":550},
{"g":"C6","b":"-12--9","h":20.69,"lo":502,"hi":502},{"g":"C6","b":"-12--9","h":21,"lo":495,"hi":517},{"g":"C6","b":"-12--9","h":21.3,"lo":492,"hi":510},{"g":"C6","b":"-12--9","h":22,"lo":485,"hi":519},{"g":"C6","b":"-12--9","h":23,"lo":482,"hi":512},{"g":"C6","b":"-12--9","h":24,"lo":491,"hi":502},{"g":"C6","b":"-12--9","h":24.2,"lo":500,"hi":500},
{"g":"C7","b":"-12--9","h":24.95,"lo":450,"hi":450},{"g":"C7","b":"-12--9","h":26,"lo":442,"hi":467},{"g":"C7","b":"-12--9","h":27,"lo":434,"hi":469},{"g":"C7","b":"-12--9","h":28,"lo":434,"hi":467},
{"g":"Ca","b":"-15--12","h":2.75,"lo":956,"hi":956},{"g":"Ca","b":"-15--12","h":2.97,"lo":938,"hi":1000},{"g":"Ca","b":"-15--12","h":3.2,"lo":945,"hi":961},{"g":"Ca","b":"-15--12","h":3.53,"lo":955,"hi":955},
{"g":"Cb","b":"-15--12","h":3.7,"lo":906,"hi":906},{"g":"Cb","b":"-15--12","h":3.98,"lo":884,"hi":929},{"g":"Cb","b":"-15--12","h":4.15,"lo":891,"hi":908},{"g":"Cb","b":"-15--12","h":4.48,"lo":900,"hi":900},
{"g":"Cc","b":"-15--12","h":4.65,"lo":856,"hi":856},{"g":"Cc","b":"-15--12","h":4.99,"lo":837,"hi":873},{"g":"Cc","b":"-15--12","h":5.15,"lo":845,"hi":858},{"g":"Cc","b":"-15--12","h":5.52,"lo":853,"hi":853},
{"g":"Cd","b":"-15--12","h":5.8,"lo":801,"hi":801},{"g":"Cd","b":"-15--12","h":6,"lo":793,"hi":821},{"g":"Cd","b":"-15--12","h":6.16,"lo":794,"hi":804},{"g":"Cd","b":"-15--12","h":6.83,"lo":801,"hi":801},
{"g":"Ce","b":"-15--12","h":7.33,"lo":751,"hi":751},{"g":"Ce","b":"-15--12","h":8,"lo":738,"hi":760},{"g":"Ce","b":"-15--12","h":8.32,"lo":750,"hi":750},
{"g":"Cf","b":"-15--12","h":8.9,"lo":700,"hi":700},{"g":"Cf","b":"-15--12","h":9,"lo":697,"hi":705},{"g":"Cf","b":"-15--12","h":10,"lo":697,"hi":703},{"g":"Cf","b":"-15--12","h":10.1,"lo":700,"hi":700},
{"g":"Cg","b":"-15--12","h":10.95,"lo":650,"hi":650},{"g":"Cg","b":"-15--12","h":11.6,"lo":646,"hi":653},{"g":"Cg","b":"-15--12","h":11.75,"lo":650,"hi":650},
{"g":"Ch","b":"-15--12","h":13.9,"lo":600,"hi":600},{"g":"Ch","b":"-15--12","h":14.3,"lo":597,"hi":603},{"g":"Ch","b":"-15--12","h":15.3,"lo":600,"hi":600},
{"g":"Ci","b":"-15--12","h":17.8,"lo":550,"hi":550},{"g":"Ci","b":"-15--12","h":18.5,"lo":549,"hi":552},{"g":"Ci","b":"-15--12","h":19.2,"lo":550,"hi":550},
{"g":"Cj","b":"-15--12","h":21.85,"lo":500,"hi":500},{"g":"Cj","b":"-15--12","h":22.1,"lo":498,"hi":502},{"g":"Cj","b":"-15--12","h":23,"lo":500,"hi":500},
{"g":"Ck","b":"-15--12","h":26.5,"lo":450,"hi":450},{"g":"Ck","b":"-15--12","h":27,"lo":447,"hi":453},{"g":"Ck","b":"-15--12","h":28,"lo":445,"hi":455},
{"g":"D","b":"0-3","h":7,"lo":1020,"hi":1100},{"g":"D","b":"0-3","h":8,"lo":973,"hi":1100},{"g":"D","b":"0-3","h":9,"lo":949,"hi":1100},{"g":"D","b":"0-3","h":10,"lo":910,"hi":1100},{"g":"D","b":"0-3","h":11,"lo":879,"hi":1100},{"g":"D","b":"0-3","h":12,"lo":854,"hi":1100},{"g":"D","b":"0-3","h":13,"lo":825,"hi":1100},{"g":"D","b":"0-3","h":14,"lo":805,"hi":1020},{"g":"D","b":"0-3","h":15,"lo":783,"hi":994},{"g":"D","b":"0-3","h":16,"lo":764,"hi":973},{"g":"D","b":"0-3","h":17,"lo":754,"hi":949},{"g":"D","b":"0-3","h":18,"lo":732,"hi":938},{"g":"D","b":"0-3","h":19,"lo":721,"hi":920},{"g":"D","b":"0-3","h":20,"lo":710,"hi":900},{"g":"D","b":"0-3","h":21,"lo":681,"hi":876},{"g":"D","b":"0-3","h":22,"lo":664,"hi":844},{"g":"D","b":"0-3","h":23,"lo":651,"hi":830},{"g":"D","b":"0-3","h":24,"lo":632,"hi":804},{"g":"D","b":"0-3","h":25,"lo":619,"hi":794},{"g":"D","b":"0-3","h":26,"lo":609,"hi":783},{"g":"D","b":"0-3","h":27,"lo":604,"hi":771},{"g":"D","b":"0-3","h":28,"lo":596,"hi":751},
{"g":"D","b":"-3-0","h":8,"lo":1020,"hi":1100},{"g":"D","b":"-3-0","h":9,"lo":975,"hi":1100},{"g":"D","b":"-3-0","h":10,"lo":936,"hi":1100},{"g":"D","b":"-3-0","h":11,"lo":910,"hi":1100},{"g":"D","b":"-3-0","h":12,"lo":885,"hi":1100},{"g":"D","b":"-3-0","h":13,"lo":858,"hi":1040},{"g":"D","b":"-3-0","h":14,"lo":837,"hi":993},{"g":"D","b":"-3-0","h":15,"lo":813,"hi":961},{"g":"D","b":"-3-0","h":16,"lo":798,"hi":941},{"g":"D","b":"-3-0","h":17,"lo":782,"hi":923},{"g":"D","b":"-3-0","h":18,"lo":763,"hi":903},{"g":"D","b":"-3-0","h":19,"lo":753,"hi":885},{"g":"D","b":"-3-0","h":20,"lo":736,"hi":875},{"g":"D","b":"-3-0","h":21,"lo":707,"hi":844},{"g":"D","b":"-3-0","h":22,"lo":690,"hi":821},{"g":"D","b":"-3-0","h":23,"lo":669,"hi":799},{"g":"D","b":"-3-0","h":24,"lo":654,"hi":786},{"g":"D","b":"-3-0","h":25,"lo":648,"hi":769},{"g":"D","b":"-3-0","h":26,"lo":630,"hi":754},{"g":"D","b":"-3-0","h":27,"lo":621,"hi":750},{"g":"D","b":"-3-0","h":28,"lo":613,"hi":737},
{"g":"D","b":"-6--3","h":8,"lo":1060,"hi":1100},{"g":"D","b":"-6--3","h":9,"lo":1000,"hi":1100},{"g":"D","b":"-6--3","h":10,"lo":964,"hi":1100},{"g":"D","b":"-6--3","h":11,"lo":932,"hi":1100},{"g":"D","b":"-6--3","h":12,"lo":903,"hi":1100},{"g":"D","b":"-6--3","h":13,"lo":873,"hi":1000},{"g":"D","b":"-6--3","h":14,"lo":856,"hi":975},{"g":"D","b":"-6--3","h":15,"lo":830,"hi":943},{"g":"D","b":"-6--3","h":16,"lo":815,"hi":926},{"g":"D","b":"-6--3","h":17,"lo":801,"hi":908},{"g":"D","b":"-6--3","h":18,"lo":780,"hi":891},{"g":"D","b":"-6--3","h":19,"lo":769,"hi":873},{"g":"D","b":"-6--3","h":20,"lo":754,"hi":858},{"g":"D","b":"-6--3","h":21,"lo":725,"hi":833},{"g":"D","b":"-6--3","h":22,"lo":707,"hi":804},{"g":"D","b":"-6--3","h":23,"lo":685,"hi":786},{"g":"D","b":"-6--3","h":24,"lo":672,"hi":770},{"g":"D","b":"-6--3","h":25,"lo":661,"hi":754},{"g":"D","b":"-6--3","h":26,"lo":649,"hi":739},{"g":"D","b":"-6--3","h":27,"lo":637,"hi":739},{"g":"D","b":"-6--3","h":28,"lo":627,"hi":721},
{"g":"D","b":"-9--6","h":8,"lo":1080,"hi":1100},{"g":"D","b":"-9--6","h":9,"lo":1030,"hi":1100},{"g":"D","b":"-9--6","h":10,"lo":981,"hi":1100},{"g":"D","b":"-9--6","h":11,"lo":949,"hi":1100},{"g":"D","b":"-9--6","h":12,"lo":920,"hi":1020},{"g":"D","b":"-9--6","h":13,"lo":900,"hi":981},{"g":"D","b":"-9--6","h":14,"lo":871,"hi":955},{"g":"D","b":"-9--6","h":15,"lo":847,"hi":929},{"g":"D","b":"-9--6","h":16,"lo":836,"hi":903},{"g":"D","b":"-9--6","h":17,"lo":818,"hi":888},{"g":"D","b":"-9--6","h":18,"lo":801,"hi":871},{"g":"D","b":"-9--6","h":19,"lo":786,"hi":853},{"g":"D","b":"-9--6","h":20,"lo":769,"hi":836},{"g":"D","b":"-9--6","h":21,"lo":739,"hi":812},{"g":"D","b":"-9--6","h":22,"lo":725,"hi":777},{"g":"D","b":"-9--6","h":23,"lo":701,"hi":771},{"g":"D","b":"-9--6","h":24,"lo":690,"hi":754},{"g":"D","b":"-9--6","h":25,"lo":672,"hi":739},{"g":"D","b":"-9--6","h":26,"lo":667,"hi":725},{"g":"D","b":"-9--6","h":27,"lo":658,"hi":722},{"g":"D","b":"-9--6","h":28,"lo":643,"hi":707},
{"g":"D1","b":"-12--9","h":10,"lo":1000,"hi":1000},{"g":"D1","b":"-12--9","h":11,"lo":974,"hi":1010},{"g":"D1","b":"-12--9","h":11.8,"lo":1000,"hi":1000},
{"g":"D2","b":"-12--9","h":11.5,"lo":952,"hi":952},{"g":"D2","b":"-12--9","h":12,"lo":935,"hi":988},{"g":"D2","b":"-12--9","h":12.3,"lo":934,"hi":967},{"g":"D2","b":"-12--9","h":12.7,"lo":936,"hi":965},{"g":"D2","b":"-12--9","h":13,"lo":920,"hi":965},{"g":"D2","b":"-12--9","h":13.6,"lo":952,"hi":952},
{"g":"D3","b":"-12--9","h":13.4,"lo":901,"hi":901},{"g":"D3","b":"-12--9","h":14,"lo":888,"hi":930},{"g":"D3","b":"-12--9","h":15,"lo":875,"hi":914},{"g":"D3","b":"-12--9","h":15.7,"lo":901,"hi":901},
{"g":"D4","b":"-12--9","h":15.63,"lo":852,"hi":852},{"g":"D4","b":"-12--9","h":16,"lo":844,"hi":881},{"g":"D4","b":"-12--9","h":16.25,"lo":840,"hi":865},{"g":"D4","b":"-12--9","h":17,"lo":831,"hi":871},{"g":"D4","b":"-12--9","h":17.75,"lo":841,"hi":862},{"g":"D4","b":"-12--9","h":18,"lo":827,"hi":859},{"g":"D4","b":"-12--9","h":18.5,"lo":852,"hi":852},
{"g":"D5","b":"-12--9","h":18.55,"lo":801,"hi":801},{"g":"D5","b":"-12--9","h":19,"lo":790,"hi":823},{"g":"D5","b":"-12--9","h":20,"lo":784,"hi":821},{"g":"D5","b":"-12--9","h":21.03,"lo":801,"hi":801},
{"g":"D6","b":"-12--9","h":21.25,"lo":751,"hi":751},{"g":"D6","b":"-12--9","h":22,"lo":734,"hi":770},{"g":"D6","b":"-12--9","h":23,"lo":732,"hi":760},{"g":"D6","b":"-12--9","h":23.55,"lo":751,"hi":751},
{"g":"D7","b":"-12--9","h":23.9,"lo":701,"hi":701},{"g":"D7","b":"-12--9","h":24,"lo":698,"hi":710},{"g":"D7","b":"-12--9","h":25,"lo":691,"hi":719},{"g":"D7","b":"-12--9","h":26,"lo":681,"hi":710},{"g":"D7","b":"-12--9","h":27,"lo":686,"hi":706},{"g":"D7","b":"-12--9","h":27.5,"lo":700,"hi":700},
{"g":"Da","b":"-15--12","h":10.75,"lo":1000,"hi":1000},{"g":"Da","b":"-15--12","h":11,"lo":996,"hi":1010},{"g":"Da","b":"-15--12","h":11.25,"lo":1000,"hi":1000},
{"g":"Db","b":"-15--12","h":12.5,"lo":950,"hi":950},{"g":"Db","b":"-15--12","h":13,"lo":949,"hi":951},{"g":"Db","b":"-15--12","h":13.05,"lo":950,"hi":950},
{"g":"Dc","b":"-15--12","h":14.2,"lo":900,"hi":900},{"g":"Dc","b":"-15--12","h":15,"lo":899,"hi":902},{"g":"Dc","b":"-15--12","h":15.05,"lo":900,"hi":900},
{"g":"Dd","b":"-15--12","h":16.7,"lo":850,"hi":850},{"g":"Dd","b":"-15--12","h":17,"lo":846,"hi":855},{"g":"Dd","b":"-15--12","h":17.3,"lo":850,"hi":850},
{"g":"De","b":"-15--12","h":19.85,"lo":800,"hi":800},{"g":"De","b":"-15--12","h":20,"lo":798,"hi":803},{"g":"De","b":"-15--12","h":20.15,"lo":800,"hi":800},
{"g":"Df","b":"-15--12","h":21.9,"lo":750,"hi":750},{"g":"Df","b":"-15--12","h":22,"lo":748,"hi":752},{"g":"Df","b":"-15--12","h":22.35,"lo":750,"hi":750},
{"g":"Dg","b":"-15--12","h":24.9,"lo":700,"hi":700},{"g":"Dg","b":"-15--12","h":25,"lo":698,"hi":702},{"g":"Dg","b":"-15--12","h":26,"lo":696,"hi":703},{"g":"Dg","b":"-15--12","h":26.2,"lo":700,"hi":700},
{"g":"E","b":"0-3","h":18,"lo":1040,"hi":1100},{"g":"E","b":"0-3","h":19,"lo":990,"hi":1100},{"g":"E","b":"0-3","h":20,"lo":973,"hi":1100},{"g":"E","b":"0-3","h":21,"lo":948,"hi":1100},{"g":"E","b":"0-3","h":22,"lo":914,"hi":1100},{"g":"E","b":"0-3","h":23,"lo":900,"hi":1100},{"g":"E","b":"0-3","h":24,"lo":871,"hi":1100},{"g":"E","b":"0-3","h":25,"lo":858,"hi":1040},{"g":"E","b":"0-3","h":26,"lo":844,"hi":1005},{"g":"E","b":"0-3","h":27,"lo":826,"hi":993},{"g":"E","b":"0-3","h":28,"lo":816,"hi":984},
{"g":"E","b":"-3-0","h":19,"lo":1040,"hi":1100},{"g":"E","b":"-3-0","h":20,"lo":1005,"hi":1100},{"g":"E","b":"-3-0","h":21,"lo":968,"hi":1100},{"g":"E","b":"-3-0","h":22,"lo":942,"hi":1100},{"g":"E","b":"-3-0","h":23,"lo":917,"hi":1100},{"g":"E","b":"-3-0","h":24,"lo":903,"hi":1040},{"g":"E","b":"-3-0","h":25,"lo":878,"hi":1000},{"g":"E","b":"-3-0","h":26,"lo":864,"hi":987},{"g":"E","b":"-3-0","h":27,"lo":853,"hi":975},{"g":"E","b":"-3-0","h":28,"lo":838,"hi":958},
{"g":"E","b":"-6--3","h":20,"lo":1030,"hi":1100},{"g":"E","b":"-6--3","h":21,"lo":981,"hi":1100},{"g":"E","b":"-6--3","h":22,"lo":959,"hi":1100},{"g":"E","b":"-6--3","h":23,"lo":932,"hi":1100},{"g":"E","b":"-6--3","h":24,"lo":923,"hi":1012},{"g":"E","b":"-6--3","h":25,"lo":897,"hi":990},{"g":"E","b":"-6--3","h":26,"lo":876,"hi":975},{"g":"E","b":"-6--3","h":27,"lo":871,"hi":955},{"g":"E","b":"-6--3","h":28,"lo":858,"hi":942},
{"g":"E","b":"-9--6","h":20,"lo":1040,"hi":1100},{"g":"E","b":"-9--6","h":21,"lo":990,"hi":1100},{"g":"E","b":"-9--6","h":22,"lo":965,"hi":1100},{"g":"E","b":"-9--6","h":23,"lo":950,"hi":1100},{"g":"E","b":"-9--6","h":24,"lo":935,"hi":993},{"g":"E","b":"-9--6","h":25,"lo":915,"hi":975},{"g":"E","b":"-9--6","h":26,"lo":892,"hi":952},{"g":"E","b":"-9--6","h":27,"lo":878,"hi":938},{"g":"E","b":"-9--6","h":28,"lo":871,"hi":932},
{"g":"E1","b":"-12--9","h":21.5,"lo":1000,"hi":1000},{"g":"E1","b":"-12--9","h":22,"lo":987,"hi":1010},{"g":"E1","b":"-12--9","h":22.75,"lo":996,"hi":1010},{"g":"E1","b":"-12--9","h":23,"lo":984,"hi":1010},{"g":"E1","b":"-12--9","h":23.25,"lo":1000,"hi":1000},
{"g":"E2","b":"-12--9","h":23.5,"lo":952,"hi":952},{"g":"E2","b":"-12--9","h":24,"lo":939,"hi":970},{"g":"E2","b":"-12--9","h":25,"lo":932,"hi":965},{"g":"E2","b":"-12--9","h":25.8,"lo":952,"hi":952},
{"g":"E3","b":"-12--9","h":26.3,"lo":902,"hi":902},{"g":"E3","b":"-12--9","h":27,"lo":888,"hi":919},{"g":"E3","b":"-12--9","h":28,"lo":882,"hi":917},
{"g":"Ea","b":"-15--12","h":24.5,"lo":952,"hi":952},{"g":"Ea","b":"-15--12","h":25,"lo":950,"hi":953},{"g":"Ea","b":"-15--12","h":25.1,"lo":952,"hi":952},
{"g":"Eb","b":"-15--12","h":27.3,"lo":901,"hi":901},{"g":"Eb","b":"-15--12","h":28,"lo":896,"hi":904}
]},
"encoding":{"x":{"field":"h","type":"quantitative","scale":{"domain":[0,28],"range":[31,866],"nice":false,"zero":false},"axis":{"title":"antenna height","titleFontSize":16,"titleFontWeight":"normal","titleColor":"black","titleX":449,"titleY":46,"titleAlign":"center","titleBaseline":"middle","titleAnchor":null,"offset":-137,"values":[0,1,2,3,4,5,6,7,8,9,10,11,12,13,14,15,16,17,18,19,20,21,22,23,24,25,26,27,28],"labelExpr":"['1.00','1.10','1.20','1.30','1.40','1.50','1.60','1.70','1.80','1.90','2.00','2.10','2.20','2.30','2.40','2.50','2.60','2.70','2.80','2.90','3.00','3.20','3.40','3.60','3.80','4.00','4.20','4.40','4.60'][datum.value]","labelAngle":-90,"labelFontSize":12.5,"labelColor":"black","labelOverlap":false,"labelFlush":false,"labelPadding":3,"tickSize":10,"tickColor":"black","domainColor":"black","grid":false}},
"y":{"field":"lo","type":"quantitative","stack":null,"scale":{"domain":[50,1000],"range":[679,136],"nice":false,"zero":false,"clamp":true},"axis":{"orient":"right","title":"MHz","format":"d","titleFontSize":16,"titleFontWeight":"normal","titleColor":"black","titleAngle":0,"titleX":40,"titleY":408,"titleAlign":"left","titleBaseline":"middle","titleAnchor":null,"offset":-218,"values":[50,100,150,200,250,300,350,400,450,500,550,600,650,700,750,800,850,900,950,1000],"labelFontSize":12.5,"labelColor":"black","labelOverlap":false,"labelFlush":false,"labelPadding":3,"tickSize":10,"tickColor":"black","domainColor":"black","grid":false}}},
"layer":[
{"data":{"name":"gridv"},"mark":{"type":"rule","color":"black","strokeWidth":1},"encoding":{"y2":{"field":"hi"}}},
{"data":{"name":"gridh"},"mark":{"type":"line","color":"black","strokeWidth":1},"encoding":{"detail":{"field":"lo"}}},
{"data":{"name":"bands"},"transform":[{"filter":"datum.b==='0-3'"}],"mark":{"type":"area","opacity":1},"encoding":{"y2":{"field":"hi"},"detail":{"field":"g"},"color":{"field":"b","type":"nominal","scale":{"domain":["3-6","0-3","-3-0","-6--3","-9--6","-12--9","-15--12","-18--15"],"range":["#ffffff","#ffff00","#808000","#00ffff","#33cccc","#ff00ff","#800000","#ff0000"]},"legend":{"title":null,"orient":"none","legendX":963,"legendY":535,"strokeColor":"black","fillColor":"white","padding":6,"symbolType":"square","symbolSize":80,"symbolOffset":14,"symbolStrokeWidth":1,"symbolOpacity":1,"labelFontSize":13,"labelColor":"black","labelOffset":2,"rowPadding":10.4,"labelLimit":100,"encode":{"symbols":{"update":{"stroke":{"signal":"datum.value==='3-6'||datum.value==='-18--15'?'#000000':'transparent'"}}}}}}}},
{"data":{"name":"bands"},"transform":[{"filter":"datum.b==='-3-0'"}],"mark":"area","encoding":{"y2":{"field":"hi"},"detail":{"field":"g"},"color":{"field":"b","type":"nominal"}}},
{"data":{"name":"bands"},"transform":[{"filter":"datum.b==='-6--3'"}],"mark":"area","encoding":{"y2":{"field":"hi"},"detail":{"field":"g"},"color":{"field":"b","type":"nominal"}}},
{"data":{"name":"bands"},"transform":[{"filter":"datum.b==='-9--6'"}],"mark":"area","encoding":{"y2":{"field":"hi"},"detail":{"field":"g"},"color":{"field":"b","type":"nominal"}}},
{"data":{"name":"bands"},"transform":[{"filter":"datum.b==='-12--9'"}],"mark":"area","encoding":{"y2":{"field":"hi"},"detail":{"field":"g"},"color":{"field":"b","type":"nominal"}}},
{"data":{"name":"bands"},"transform":[{"filter":"datum.b==='-15--12'"}],"mark":"area","encoding":{"y2":{"field":"hi"},"detail":{"field":"g"},"color":{"field":"b","type":"nominal"}}},
{"data":{"name":"bands"},"transform":[{"filter":"datum.b==='-18--15'"}],"mark":{"type":"area","stroke":"black","strokeWidth":0.5},"encoding":{"y2":{"field":"hi"},"detail":{"field":"g"},"color":{"field":"b","type":"nominal"}}},
{"data":{"name":"bands"},"transform":[{"filter":"datum.b==='0-3' && datum.g!=='A'"}],"mark":{"type":"line","color":"black","strokeWidth":1},"encoding":{"detail":{"field":"g"}}},
{"data":{"name":"bands"},"transform":[{"filter":"datum.b==='0-3'"}],"mark":{"type":"line","color":"black","strokeWidth":1},"encoding":{"y":{"field":"hi","type":"quantitative"},"detail":{"field":"g"}}},
{"data":{"name":"gridv"},"mark":{"type":"rule","color":"black","strokeWidth":1,"opacity":0.12},"encoding":{"y2":{"field":"hi"}}},
{"data":{"name":"gridh"},"mark":{"type":"line","color":"black","strokeWidth":1,"opacity":0.12},"encoding":{"detail":{"field":"lo"}}}
]}
